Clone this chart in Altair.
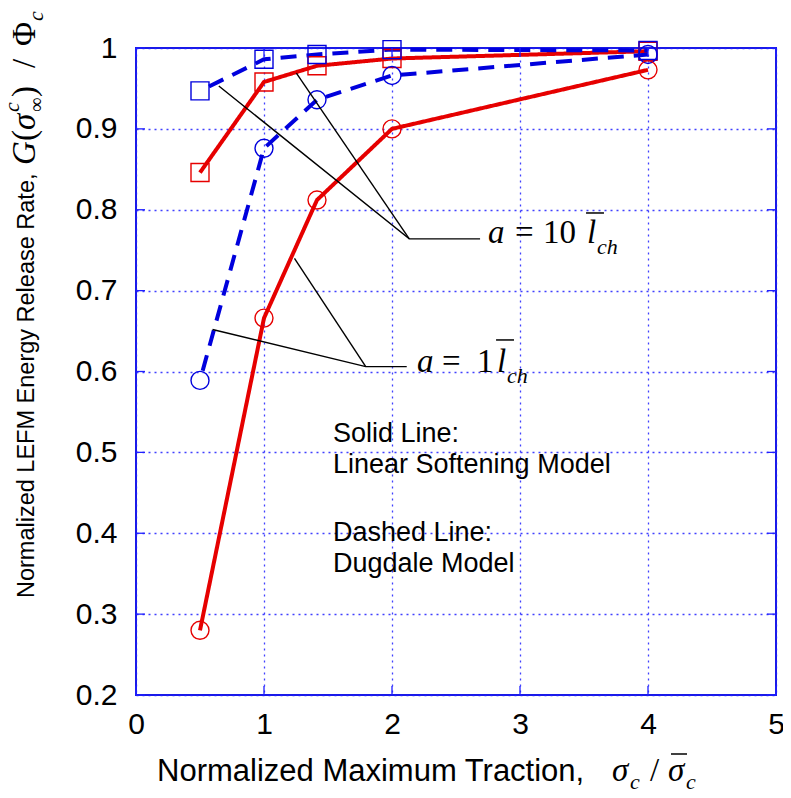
import altair as alt
import pandas as pd

# ---------------- data ----------------
x_vals = [0.5, 1.0, 1.414, 2.0, 4.0]
lin_a10 = [0.846, 0.958, 0.978, 0.987, 0.996]   # solid red, squares
dug_a10 = [0.947, 0.986, 0.992, 0.998, 0.997]   # dashed blue, squares
dug_a1 = [0.589, 0.876, 0.936, 0.966, 0.992]    # dashed blue, circles
lin_a1 = [0.280, 0.666, 0.812, 0.900, 0.973]    # solid red, circles

series_names = ["lin10", "dug10", "dug1", "lin1"]
series_vals = [lin_a10, dug_a10, dug_a1, lin_a1]
series_colors = ["#e60000", "#0000dd", "#0000dd", "#e60000"]
series_shapes = ["square", "square", "circle", "circle"]
series_sizes = [324, 324, 289, 289]
series_dash = [[1, 0], [16, 10], [16, 10], [1, 0]]

x_ticks = [0, 1, 2, 3, 4, 5]
y_ticks = [0.2, 0.3, 0.4, 0.5, 0.6, 0.7, 0.8, 0.9, 1.0]

# leader lines of the annotations (data coordinates)
lead_seg = ["a10a", "a10a", "a10a", "a10b", "a10b", "a1a", "a1a", "a1a", "a1b", "a1b"]
lead_ord = [0, 1, 2, 0, 1, 0, 1, 2, 0, 1]
lead_x = [0.647, 2.135, 2.688, 1.253, 2.135, 0.598, 1.795, 2.115, 1.238, 1.795]
lead_y = [0.953, 0.764, 0.764, 0.969, 0.764, 0.652, 0.606, 0.606, 0.740, 0.606]

# legend-like notes inside the plot
note_text = ["Solid Line:", "Linear Softening Model", "Dashed Line:", "Dugdale Model"]
note_x = [1.539, 1.539, 1.539, 1.539]
note_y = [0.5128, 0.4745, 0.3904, 0.3521]

# annotation formula pieces  a = 10 l_ch  and  a = 1 l_ch
ann_it_text = ["a", "l", "a", "l"]
ann_it_x = [2.750, 3.523, 2.195, 2.820]
ann_it_y = [0.7589, 0.7589, 0.5994, 0.5994]
ann_up_text = ["=", "10", "=", "1"]
ann_up_x = [2.961, 3.180, 2.391, 2.664]
ann_up_y = [0.7589, 0.7589, 0.5994, 0.5994]
ann_sub_text = ["ch", "ch"]
ann_sub_x = [3.602, 2.898]
ann_sub_y = [0.7453, 0.5858]
bar_x = [3.516, 2.813]
bar_x2 = [3.656, 2.953]
bar_y = [0.7960, 0.6390]

W, H = 640, 647
GRIDBLUE = "#2020ff"

rows = []
for name, vals in zip(series_names, series_vals):
    for xv, yv in zip(x_vals, vals):
        rows.append({"x": xv, "y": yv, "series": name})
df = pd.DataFrame(rows)

xs = alt.Scale(domain=[0, 5], nice=False, zero=False)
ys = alt.Scale(domain=[0.2, 1.0], nice=False, zero=False)

xaxis = alt.Axis(values=x_ticks, title=None, grid=True, ticks=False, domain=False,
                 labelPadding=14, labelFontSize=30, labelFont="Liberation Sans",
                 labelColor="black", gridColor=GRIDBLUE, gridDash=[2, 4],
                 gridOpacity=0.85, gridWidth=1.3, format="d",
                 labelFlush=False, labelOverlap=False, labelBound=False)
yaxis = alt.Axis(values=y_ticks, title=None, grid=True, ticks=False, domain=False,
                 labelPadding=19, labelFontSize=30, labelFont="Liberation Sans",
                 labelColor="black", gridColor=GRIDBLUE, gridDash=[2, 4],
                 gridOpacity=0.85, gridWidth=1.3, labelFlush=False, labelOverlap=False,
                 labelExpr="datum.value == 1 ? '1' : format(datum.value, '.1f')")

base = alt.Chart(df)

lines = base.mark_line(strokeWidth=4, strokeDashOffset=16).encode(
    x=alt.X("x:Q", scale=xs, axis=xaxis),
    y=alt.Y("y:Q", scale=ys, axis=yaxis),
    color=alt.Color("series:N", scale=alt.Scale(domain=series_names, range=series_colors), legend=None),
    strokeDash=alt.StrokeDash("series:N", scale=alt.Scale(domain=series_names, range=series_dash), legend=None),
    detail="series:N",
)

points = base.mark_point(filled=False, strokeWidth=1.4, opacity=1).encode(
    x=alt.X("x:Q", scale=xs),
    y=alt.Y("y:Q", scale=ys),
    color=alt.Color("series:N", scale=alt.Scale(domain=series_names, range=series_colors), legend=None),
    shape=alt.Shape("series:N", scale=alt.Scale(domain=series_names, range=series_shapes), legend=None),
    size=alt.Size("series:N", scale=alt.Scale(domain=series_names, range=series_sizes), legend=None),
)

# inward ticks on all four sides
xt = pd.DataFrame({"t": x_ticks})
yt = pd.DataFrame({"t": y_ticks})
tick_bottom = alt.Chart(xt).mark_rule(color=GRIDBLUE, strokeWidth=1.3).encode(
    x=alt.X("t:Q", scale=xs), y=alt.value(H), y2=alt.value(H - 9))
tick_top = alt.Chart(xt).mark_rule(color=GRIDBLUE, strokeWidth=1.3).encode(
    x=alt.X("t:Q", scale=xs), y=alt.value(0), y2=alt.value(9))
tick_left = alt.Chart(yt).mark_rule(color=GRIDBLUE, strokeWidth=1.3).encode(
    y=alt.Y("t:Q", scale=ys), x=alt.value(0), x2=alt.value(9))
tick_right = alt.Chart(yt).mark_rule(color=GRIDBLUE, strokeWidth=1.3).encode(
    y=alt.Y("t:Q", scale=ys), x=alt.value(W), x2=alt.value(W - 9))

lead_df = pd.DataFrame({"seg": lead_seg, "ord": lead_ord, "x": lead_x, "y": lead_y})
leaders = alt.Chart(lead_df).mark_line(color="black", strokeWidth=1.4).encode(
    x=alt.X("x:Q", scale=xs), y=alt.Y("y:Q", scale=ys), detail="seg:N", order="ord:Q")

notes = alt.Chart(pd.DataFrame({"t": note_text, "x": note_x, "y": note_y})).mark_text(
    font="Liberation Sans", fontSize=27, align="left", baseline="alphabetic", color="black"
).encode(x=alt.X("x:Q", scale=xs), y=alt.Y("y:Q", scale=ys), text="t:N")

ann_it = alt.Chart(pd.DataFrame({"t": ann_it_text, "x": ann_it_x, "y": ann_it_y})).mark_text(
    font="Liberation Serif", fontStyle="italic", fontSize=33, align="left", baseline="alphabetic", color="black"
).encode(x=alt.X("x:Q", scale=xs), y=alt.Y("y:Q", scale=ys), text="t:N")
ann_up = alt.Chart(pd.DataFrame({"t": ann_up_text, "x": ann_up_x, "y": ann_up_y})).mark_text(
    font="Liberation Serif", fontSize=33, align="left", baseline="alphabetic", color="black"
).encode(x=alt.X("x:Q", scale=xs), y=alt.Y("y:Q", scale=ys), text="t:N")
ann_sub = alt.Chart(pd.DataFrame({"t": ann_sub_text, "x": ann_sub_x, "y": ann_sub_y})).mark_text(
    font="Liberation Serif", fontStyle="italic", fontSize=22, align="left", baseline="alphabetic", color="black"
).encode(x=alt.X("x:Q", scale=xs), y=alt.Y("y:Q", scale=ys), text="t:N")
ann_bar = alt.Chart(pd.DataFrame({"x": bar_x, "x2": bar_x2, "y": bar_y})).mark_rule(
    color="black", strokeWidth=1.5
).encode(x=alt.X("x:Q", scale=xs), x2="x2:Q", y=alt.Y("y:Q", scale=ys))


# ---------- axis titles built from pieces (pixel positions relative to plot) ----------
def piece(text, px, py, size, font="Liberation Serif", style="normal", angle=0):
    return alt.Chart(pd.DataFrame({"t": [text]})).mark_text(
        font=font, fontStyle=style, fontSize=size, angle=angle, align="left",
        baseline="alphabetic", color="black"
    ).encode(x=alt.value(px), y=alt.value(py), text="t:N")


def hbar(px1, px2, py):
    return alt.Chart(pd.DataFrame({"v": [0]})).mark_rule(color="black", strokeWidth=1.5).encode(
        x=alt.value(px1), x2=alt.value(px2), y=alt.value(py))


titles = [
    piece("Normalized Maximum Traction,", 21, 733, 31, font="Liberation Sans"),
    piece("σ", 476, 733, 33, style="italic"),
    piece("c", 494, 741, 22, style="italic"),
    piece("/", 514, 733, 33),
    piece("σ", 532, 733, 33, style="italic"),
    hbar(535, 551, 706),
    piece("c", 550, 741, 22, style="italic"),
    # y title (rotated)
    piece("Normalized LEFM Energy Release Rate,", -102, 550, 23.5, font="Liberation Sans", angle=270),
    piece("G", -101, 117, 33, style="italic", angle=270),
    piece("(", -101, 93, 33, angle=270),
    piece("σ", -101, 82, 33, style="italic", angle=270),
    piece("c", -117, 64, 22, style="italic", angle=270),
    piece("∞", -93, 64, 20, angle=270),
    piece(")", -101, 49, 33, angle=270),
    piece("/", -101, 20, 33, angle=270),
    piece("Φ", -101, -2, 33, angle=270),
    piece("c", -93, -27, 22, style="italic", angle=270),
]

chart = alt.layer(
    lines, points, tick_bottom, tick_top, tick_left, tick_right,
    leaders, notes, ann_it, ann_up, ann_sub, ann_bar, *titles
).properties(
    width=W, height=H,
    padding={"left": 128, "top": 40, "right": 7, "bottom": 102},
    autosize=alt.AutoSizeParams(type="none"),
    background="white",
).configure_view(stroke="#1a1ae6", strokeWidth=2)

chart.save("out.html", embed_options={"renderer": "svg", "actions": False})
